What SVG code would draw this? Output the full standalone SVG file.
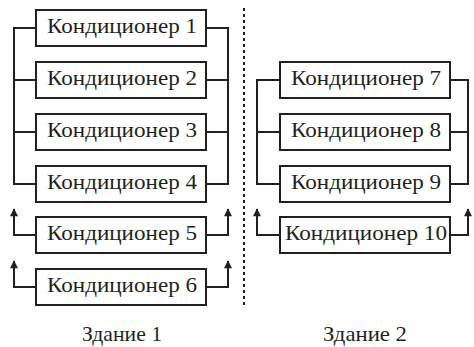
<svg xmlns="http://www.w3.org/2000/svg" width="474" height="347" viewBox="0 0 474 347">
<style>
.box{fill:#fff;stroke:#231f20;stroke-width:2}
.ln{fill:none;stroke:#231f20;stroke-width:2}
.t{font-family:'Liberation Serif','Times New Roman',serif;font-size:22px;fill:#231f20;text-anchor:middle}
</style>
<defs>
<marker id="ah" viewBox="0 0 10 10" refX="9" refY="5" markerWidth="5" markerHeight="4" orient="auto" markerUnits="strokeWidth">
<path d="M0,0 L10,5 L0,10 z" fill="#231f20"/>
</marker>
</defs>
<g id="connectors">
<path class="ln" d="M36,28 H14 V184 H36 M14,80 H36 M14,132 H36"/>
<path class="ln" d="M206,28 H228 V184 H206 M228,80 H206 M228,132 H206"/>
<path class="ln" d="M36,235 H14 V209" marker-end="url(#ah)"/>
<path class="ln" d="M206,235 H228 V209" marker-end="url(#ah)"/>
<path class="ln" d="M36,287 H14 V261" marker-end="url(#ah)"/>
<path class="ln" d="M206,287 H228 V261" marker-end="url(#ah)"/>
<path class="ln" d="M280,80 H257 V184 H280 M257,132 H280"/>
<path class="ln" d="M450,80 H468 V184 H450 M468,132 H450"/>
<path class="ln" d="M280,235 H257 V209" marker-end="url(#ah)"/>
<path class="ln" d="M450,235 H468 V209" marker-end="url(#ah)"/>
<line x1="244" y1="8" x2="244" y2="306" stroke="#231f20" stroke-width="2" stroke-dasharray="3,3"/>
</g>
<g id="n1"><rect class="box" x="36" y="10" width="170" height="36"/><text class="t" x="122" y="32.5" textLength="150" lengthAdjust="spacingAndGlyphs">Кондиционер 1</text></g>
<g id="n2"><rect class="box" x="36" y="62" width="170" height="36"/><text class="t" x="122" y="84.5" textLength="150" lengthAdjust="spacingAndGlyphs">Кондиционер 2</text></g>
<g id="n3"><rect class="box" x="36" y="114" width="170" height="36"/><text class="t" x="122" y="136.5" textLength="150" lengthAdjust="spacingAndGlyphs">Кондиционер 3</text></g>
<g id="n4"><rect class="box" x="36" y="166" width="170" height="36"/><text class="t" x="122" y="188.5" textLength="150" lengthAdjust="spacingAndGlyphs">Кондиционер 4</text></g>
<g id="n5"><rect class="box" x="36" y="217" width="170" height="36"/><text class="t" x="122" y="239.5" textLength="150" lengthAdjust="spacingAndGlyphs">Кондиционер 5</text></g>
<g id="n6"><rect class="box" x="36" y="269" width="170" height="36"/><text class="t" x="122" y="291.5" textLength="150" lengthAdjust="spacingAndGlyphs">Кондиционер 6</text></g>
<g id="n7"><rect class="box" x="280" y="62" width="170" height="36"/><text class="t" x="366" y="84.5" textLength="150" lengthAdjust="spacingAndGlyphs">Кондиционер 7</text></g>
<g id="n8"><rect class="box" x="280" y="114" width="170" height="36"/><text class="t" x="366" y="136.5" textLength="150" lengthAdjust="spacingAndGlyphs">Кондиционер 8</text></g>
<g id="n9"><rect class="box" x="280" y="166" width="170" height="36"/><text class="t" x="366" y="188.5" textLength="150" lengthAdjust="spacingAndGlyphs">Кондиционер 9</text></g>
<g id="n10"><rect class="box" x="280" y="217" width="170" height="36"/><text class="t" x="366" y="239.5" textLength="162" lengthAdjust="spacingAndGlyphs">Кондиционер 10</text></g>
<text class="t" x="122" y="341" textLength="80" lengthAdjust="spacingAndGlyphs">Здание 1</text>
<text class="t" x="365" y="341" textLength="84" lengthAdjust="spacingAndGlyphs">Здание 2</text>
</svg>
